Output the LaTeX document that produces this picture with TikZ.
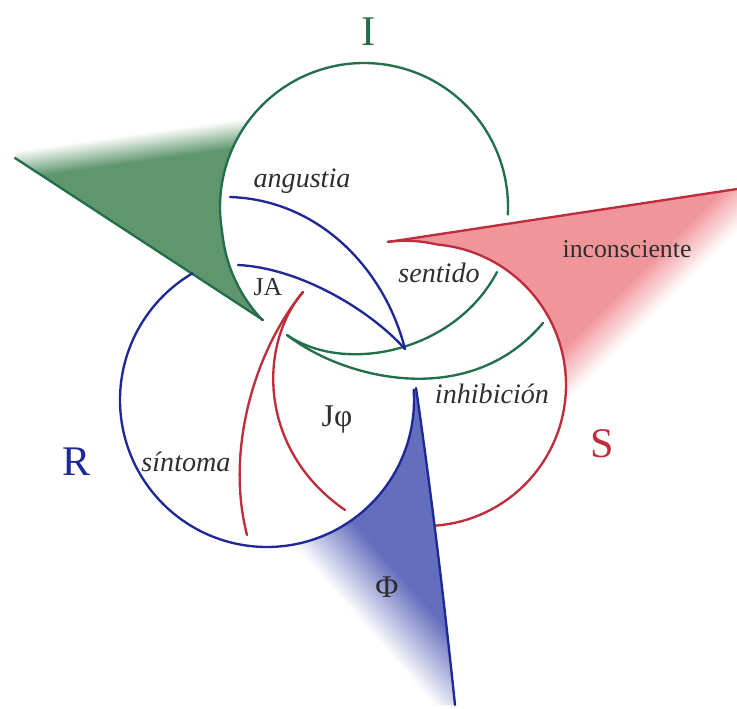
\documentclass[tikz,border=0pt]{standalone}
\usepackage{fontspec}
\setmainfont{Liberation Serif}
\definecolor{igreen}{HTML}{236E4B}
\definecolor{rblue}{HTML}{1E2896}
\definecolor{sred}{HTML}{BE2D3C}
\definecolor{gfill}{HTML}{5F966E}
\definecolor{bfill}{HTML}{646EBE}
\definecolor{rfill}{HTML}{F0969B}
\definecolor{ink}{HTML}{2E2E2E}
\tikzset{
  ring/.style={draw=#1, line width=2pt, line cap=round},
  word/.style={font=\fontsize{24}{28}\selectfont\itshape, text=ink, anchor=base},
  plainword/.style={font=\fontsize{22}{26}\selectfont, text=ink, anchor=base},
  bigword/.style={font=\fontsize{27}{30}\selectfont, text=ink, anchor=base},
  letter/.style={font=\fontsize{36}{40}\selectfont, text=#1, anchor=base},
}
% bands across an axis (#2,#3): full colour up to #4, white from #5
\newcommand\fadewedge[5]{%
  \pgfmathsetmacro\fwstep{((#5)-(#4))/25}
  \fill[#1] ({((#4)-1200)*(#2)+1200*(#3)},{((#4)-1200)*(#3)-1200*(#2)})
    -- ({((#4)-1200)*(#2)-1200*(#3)},{((#4)-1200)*(#3)+1200*(#2)})
    -- ({((#4)+0.6)*(#2)-1200*(#3)},{((#4)+0.6)*(#3)+1200*(#2)})
    -- ({((#4)+0.6)*(#2)+1200*(#3)},{((#4)+0.6)*(#3)-1200*(#2)}) -- cycle;
  \foreach \k in {0,...,24}{
    \pgfmathsetmacro\sa{(#4)+\k*\fwstep}
    \pgfmathsetmacro\sb{\sa+\fwstep+0.6}
    \pgfmathsetmacro\pc{98-4*\k}
    \fill[#1!\pc!white] ({\sa*(#2)+1200*(#3)},{\sa*(#3)-1200*(#2)})
      -- ({\sa*(#2)-1200*(#3)},{\sa*(#3)+1200*(#2)})
      -- ({\sb*(#2)-1200*(#3)},{\sb*(#3)+1200*(#2)})
      -- ({\sb*(#2)+1200*(#3)},{\sb*(#3)-1200*(#2)}) -- cycle;
  }%
}
\begin{document}
\begin{tikzpicture}[x=0.03cm, y=-0.03cm,
  declare function={gr(\t)=144+8*max(0,(-190-\t)/38); sr(\t)=141+7*max(0,(-85-\t)/19.5);}]
  \useasboundingbox (0,0) rectangle (737,709);
  \coordinate (gtip) at (263,320);
  \coordinate (gend) at (15,158);
  \coordinate (btip) at (405,349);
  \coordinate (bedge) at (416,388);
  \coordinate (bend) at (455,705);
  \coordinate (rtip) at (388,242);
  \coordinate (rend) at (737,189);
  \coordinate (gknot) at (287,335);
  \coordinate (rknot) at (303,292);

  % wedges first, the strokes go on top
  \begin{scope}
    \clip (gtip) -- (gend) -- (15,90) -- plot[domain=-126:-228.2, samples=50] ({364+gr(\x)*cos(\x)},{207+gr(\x)*sin(\x)}) -- cycle;
    \fadewedge{gfill}{-0.14}{-0.99}{-180}{-152}
  \end{scope}
  \begin{scope}
    \clip (rtip) -- (rend) -- (737,520) -- plot[domain=35:-104.5, samples=60] ({425+sr(\x)*cos(\x)},{385+sr(\x)*sin(\x)}) -- cycle;
    \fadewedge{rfill}{0.707}{0.707}{645}{685}
  \end{scope}
  \begin{scope}
    \clip (bedge) .. controls (428,470) and (442,580) .. (bend) -- (200,705) -- plot[domain=110:-4, samples=60] ({267+147*cos(\x)},{400+147*sin(\x)}) -- cycle;
    \fadewedge{bfill}{-0.75}{0.66}{80}{140}
  \end{scope}

  % I
  \draw[ring=igreen] plot[domain=3:-228.2, samples=120] ({364+gr(\x)*cos(\x)},{207+gr(\x)*sin(\x)});
  \draw[ring=igreen] (gtip) -- (gend);
  \draw[ring=igreen] (gknot) .. controls (345,375) and (455,352) .. (497,272);
  \draw[ring=igreen] (gknot) .. controls (345,380) and (470,410) .. (543,323);
  % S
  \draw[ring=sred] plot[domain=86:-104.5, samples=120] ({425+sr(\x)*cos(\x)},{385+sr(\x)*sin(\x)});
  \draw[ring=sred] (rtip) -- (rend);
  \draw[ring=sred] (rknot) .. controls (255,350) and (225,450) .. (247,535);
  \draw[ring=sred] (rknot) .. controls (258,345) and (258,450) .. (345,510);
  % R
  \draw[ring=rblue] plot[domain=239.5:-4, samples=150] ({267+147*cos(\x)},{400+147*sin(\x)});
  \draw[ring=rblue] (bedge) .. controls (428,470) and (442,580) .. (bend);
  \draw[ring=rblue] (btip) .. controls (385,270) and (320,200) .. (230,197);
  \draw[ring=rblue] (btip) .. controls (370,310) and (300,268) .. (238,265);

  \node[letter=igreen] (I) at (369,46) {I};
  \node[letter=rblue] (R) at (77,475) {R};
  \node[letter=sred] (S) at (602,457) {S};
  \node[word] (angustia) at (302,187) {angustia};
  \node[word] (sentido) at (439,282) {sentido};
  \node[word] (inhibicion) at (492,403) {inhibición};
  \node[word] (sintoma) at (186,471) {síntoma};
  \node[plainword] (incons) at (627,257) {inconsciente};
  \node[plainword] (JA) at (268,295) {JA};
  \node[bigword] (Jphi) at (337,426) {Jφ};
  \node[bigword] (Phi) at (387,597) {Φ};
\end{tikzpicture}
\end{document}
